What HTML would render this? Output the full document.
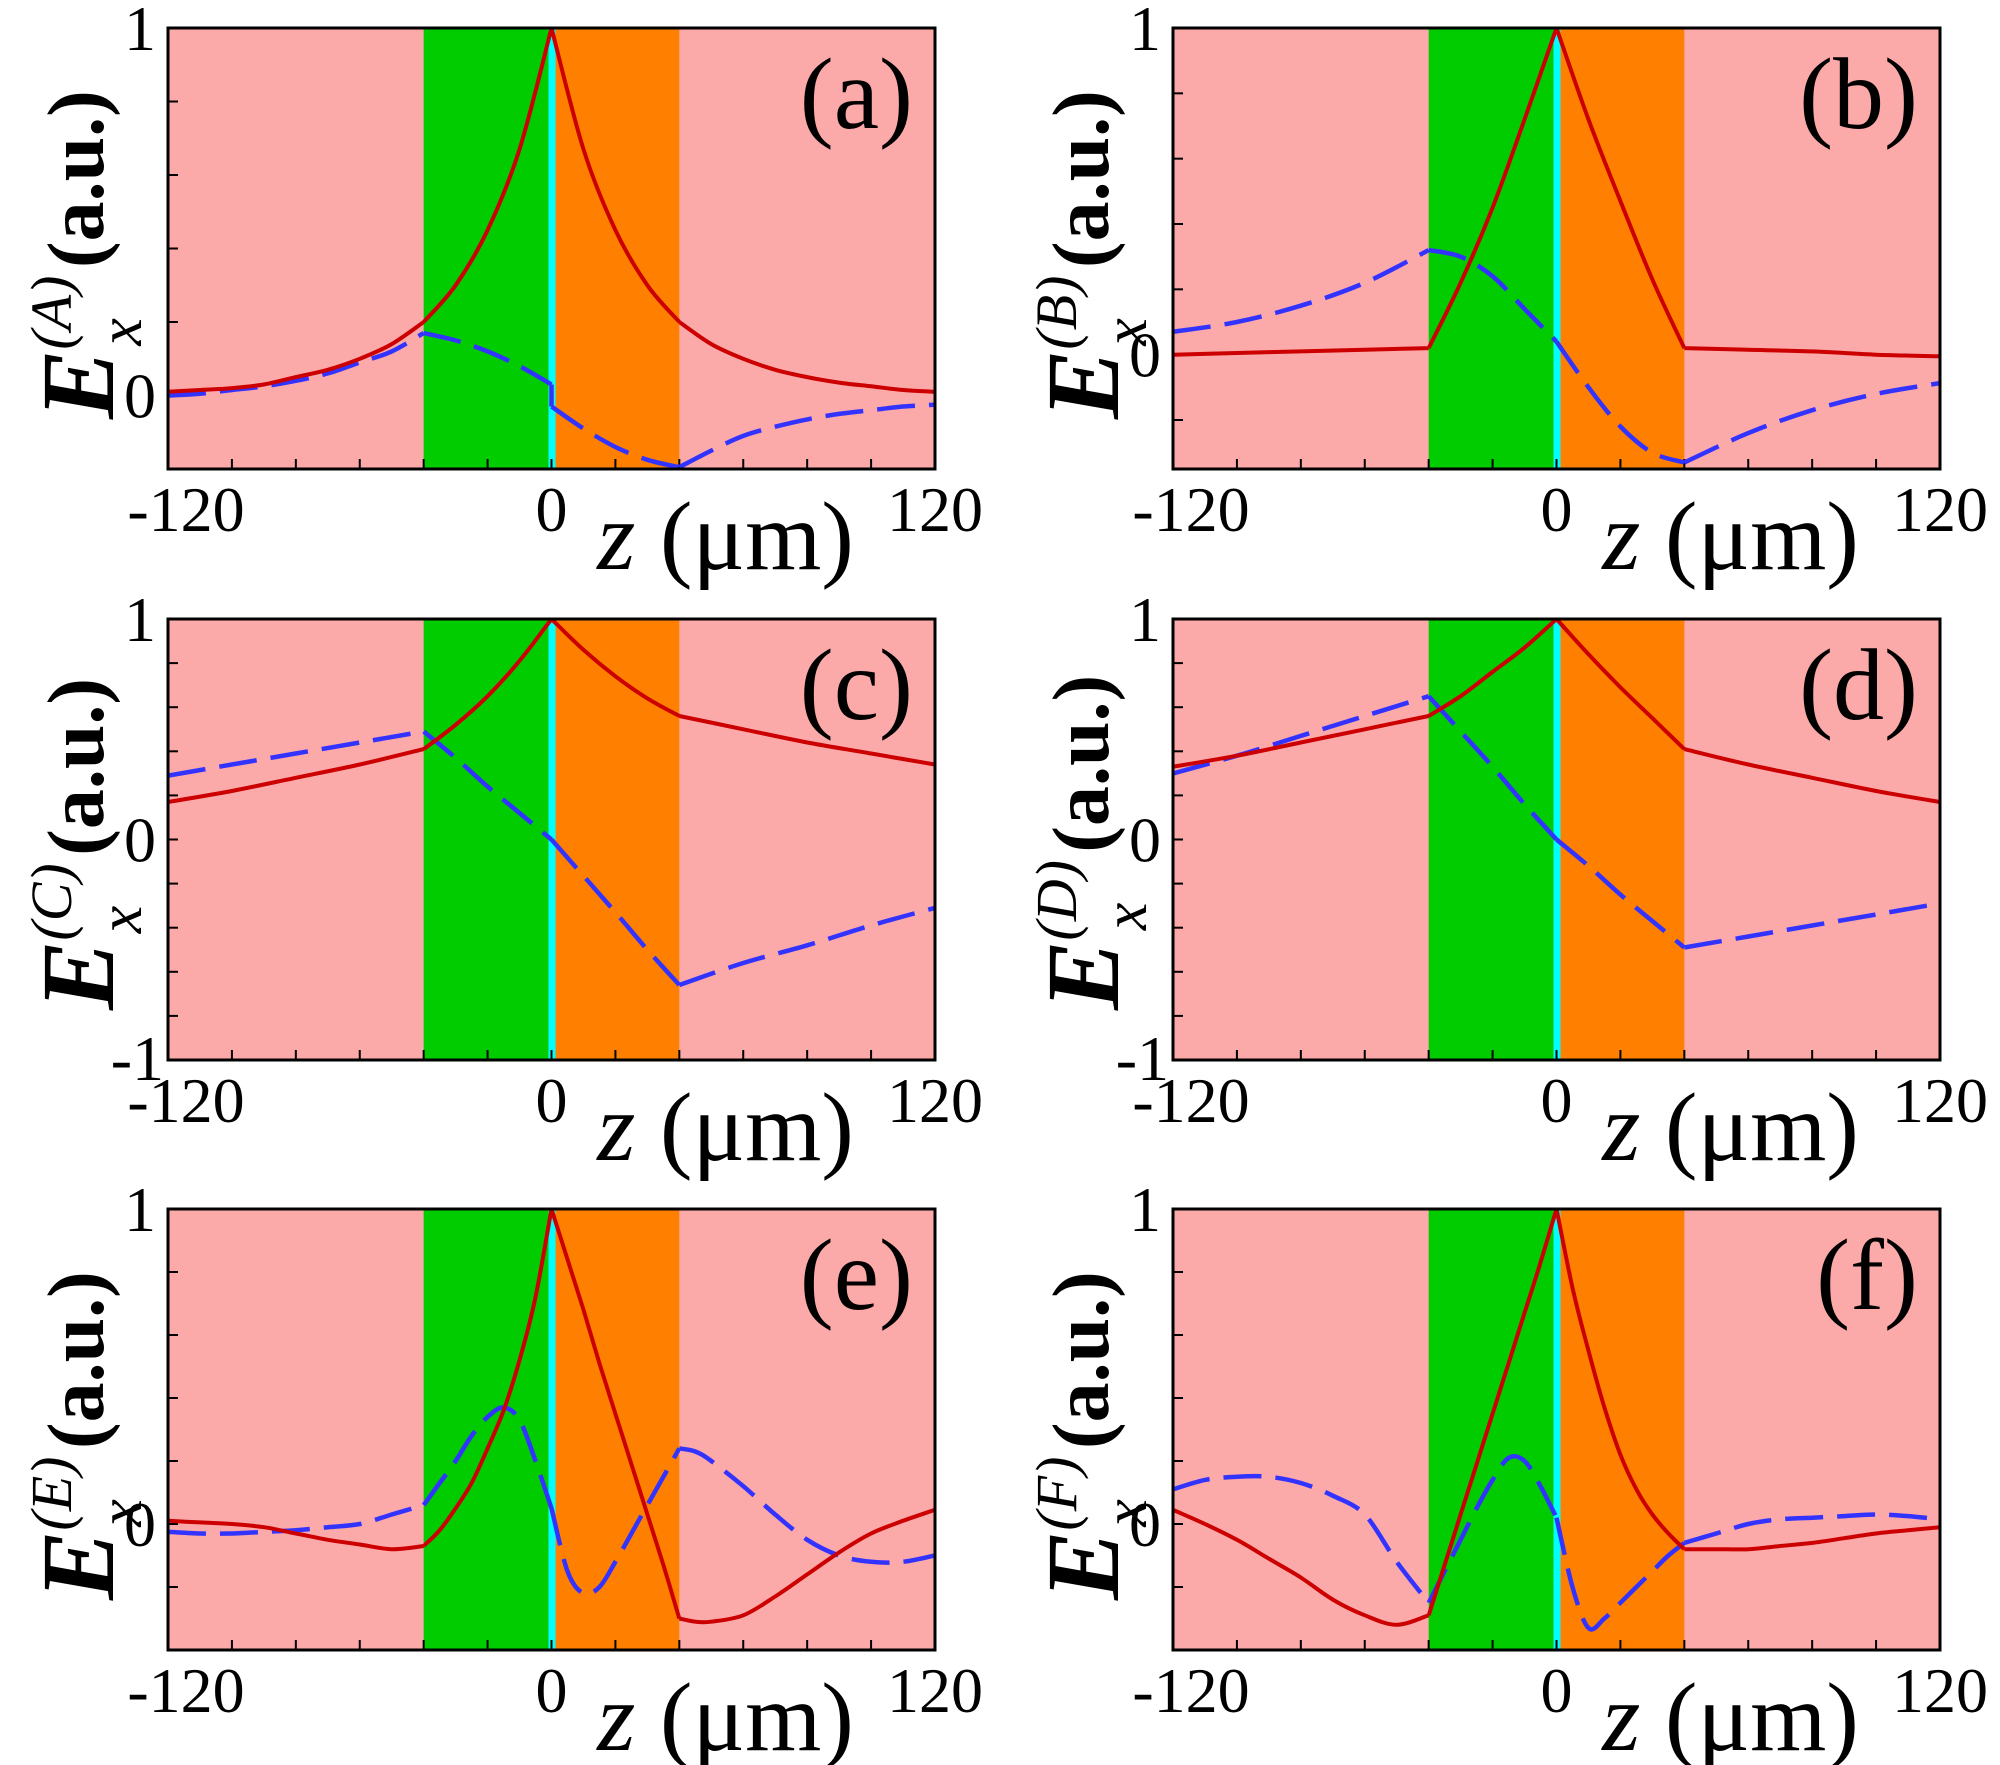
<!DOCTYPE html>
<html><head><meta charset="utf-8"><style>
html,body{margin:0;padding:0;background:#fff;}
svg{display:block;}
text{font-family:"Liberation Serif",serif;fill:#000;}
</style></head><body>
<svg id="fig" width="2000" height="1765" viewBox="0 0 2000 1765" xmlns="http://www.w3.org/2000/svg"></svg>
<script>
// Data (z in µm, field in a.u.)
const zA = [-120,-110,-100,-90,-80,-70,-60,-50,-40,-30,-20,-10,0,0,10,20,30,40,50,60,70,80,90,100,110,120];
const redA = [0.01,0.015,0.02,0.03,0.05,0.07,0.10,0.14,0.20,0.30,0.45,0.67,1,1,0.67,0.45,0.30,0.20,0.14,0.10,0.07,0.05,0.035,0.025,0.015,0.01];
const blueA = [0.0,0.005,0.015,0.025,0.04,0.06,0.09,0.12,0.17,0.15,0.12,0.08,0.03,-0.03,-0.09,-0.14,-0.175,-0.195,-0.15,-0.11,-0.085,-0.065,-0.05,-0.04,-0.03,-0.025];
const zB = [-120,-100,-80,-60,-40,-30,-20,-10,0,10,20,30,40,60,80,100,120];
const redB = [0.0,0.005,0.01,0.015,0.02,0.22,0.45,0.72,1,0.72,0.47,0.23,0.02,0.015,0.01,0.0,-0.005];
const blueB = [0.07,0.1,0.15,0.22,0.32,0.3,0.24,0.14,0.04,-0.1,-0.22,-0.3,-0.33,-0.24,-0.17,-0.12,-0.087];
const zC = [-120,-100,-80,-60,-40,-30,-20,-10,0,10,20,30,40,60,80,100,120];
const redC = [0.17,0.22,0.28,0.34,0.41,0.52,0.65,0.81,1,0.86,0.74,0.64,0.56,0.5,0.44,0.39,0.34];
const blueC = [0.29,0.34,0.39,0.44,0.49,0.37,0.24,0.12,0.0,-0.165,-0.33,-0.5,-0.66,-0.56,-0.48,-0.39,-0.31];
const zD = [-120,-100,-80,-60,-40,-30,-20,-10,0,10,20,30,40,60,80,100,120];
const redD = [0.33,0.38,0.44,0.5,0.56,0.65,0.76,0.87,1,0.84,0.69,0.55,0.41,0.34,0.28,0.22,0.17];
const blueD = [0.30,0.38,0.47,0.56,0.65,0.49,0.33,0.16,0.0,-0.12,-0.25,-0.37,-0.49,-0.44,-0.39,-0.34,-0.29];
const zE = [-120,-110,-100,-90,-80,-70,-60,-50,-40,-35,-30,-25,-20,-15,-10,-5,0,5,10,15,20,25,30,35,40,45,50,60,70,80,90,100,110,120];
const redE = [0.01,0.005,0,-0.01,-0.03,-0.05,-0.065,-0.08,-0.07,-0.02,0.05,0.13,0.24,0.36,0.52,0.72,1,0.84,0.68,0.51,0.35,0.19,0.03,-0.13,-0.3,-0.31,-0.31,-0.29,-0.23,-0.16,-0.09,-0.03,0.01,0.045];
const blueE = [-0.025,-0.03,-0.03,-0.025,-0.02,-0.01,0.0,0.03,0.06,0.13,0.2,0.28,0.34,0.37,0.33,0.2,0.05,-0.15,-0.22,-0.2,-0.12,-0.03,0.06,0.15,0.24,0.23,0.2,0.12,0.03,-0.05,-0.1,-0.12,-0.12,-0.1];
const zF = [-120,-110,-100,-90,-80,-70,-60,-50,-40,-35,-30,-25,-20,-15,-10,-5,0,5,10,15,20,25,30,35,40,50,60,70,80,90,100,110,120];
const redF = [0.045,0.0,-0.05,-0.11,-0.17,-0.24,-0.29,-0.32,-0.29,-0.13,0.03,0.19,0.35,0.51,0.67,0.83,1,0.75,0.55,0.37,0.22,0.11,0.03,-0.03,-0.08,-0.08,-0.08,-0.07,-0.06,-0.045,-0.03,-0.02,-0.01];
const blueF = [0.11,0.14,0.15,0.15,0.13,0.09,0.03,-0.12,-0.25,-0.15,-0.05,0.05,0.14,0.21,0.2,0.12,0.02,-0.2,-0.33,-0.3,-0.25,-0.2,-0.15,-0.1,-0.06,-0.03,0.0,0.015,0.02,0.025,0.03,0.025,0.015];
const panelLetters = ['a','b','c','d','e','f'];
const panelSup = ['A','B','C','D','E','F'];
const yMins = [-0.2,-0.35,-1,-1,-0.4,-0.4];
const xTickLabels = ['-120','0','120'];
const xTickValues = [-120,0,120];
const kinks = [-40,0,40];

const series = [[zA,redA,blueA],[zB,redB,blueB],[zC,redC,blueC],[zD,redD,blueD],[zE,redE,blueE],[zF,redF,blueF]];
const NS = 'http://www.w3.org/2000/svg';
const svg = document.getElementById('fig');
function mk(tag, attrs, parent){const e=document.createElementNS(NS,tag);for(const k in attrs)e.setAttribute(k,attrs[k]);(parent||svg).appendChild(e);return e;}
function smoothPath(pts, zs){
  const segs=[];let cur=[pts[0]];
  for(let k=1;k<pts.length;k++){
    cur.push(pts[k]);
    if(kinks.includes(zs[k]) && k<pts.length-1){segs.push(cur);cur=[pts[k]];}
  }
  segs.push(cur);
  let d='';
  segs.forEach(s=>{
    d+='M'+s[0][0].toFixed(1)+','+s[0][1].toFixed(1);
    for(let k=0;k<s.length-1;k++){
      const p0=s[Math.max(k-1,0)],p1=s[k],p2=s[k+1],p3=s[Math.min(k+2,s.length-1)];
      const c1=[p1[0]+(p2[0]-p0[0])/6,p1[1]+(p2[1]-p0[1])/6];
      const c2=[p2[0]-(p3[0]-p1[0])/6,p2[1]-(p3[1]-p1[1])/6];
      d+='C'+c1[0].toFixed(1)+','+c1[1].toFixed(1)+' '+c2[0].toFixed(1)+','+c2[1].toFixed(1)+' '+p2[0].toFixed(1)+','+p2[1].toFixed(1);
    }
  });
  return d;
}
const cols=[168,1173], rows=[28,619,1209], W=767, H=441;
for(let i=0;i<6;i++){
  const L=cols[i%2], T=rows[Math.floor(i/2)], R=L+W, B=T+H;
  const ymin=yMins[i], ymax=1;
  const xs=z=>L+(z+120)/240*W;
  const ys=v=>T+(ymax-v)/(ymax-ymin)*H;
  const g=mk('g',{});
  
  
  const bg=mk('rect',{x:L,y:T,width:W,height:H,fill:'#fca9a9'},g);
  
  
  const gr=mk('rect',{x:xs(-40),y:T,width:xs(0)-xs(-40),height:H,fill:'#00cc00'},g);
  
  
  const orr=mk('rect',{x:xs(0),y:T,width:xs(40)-xs(0),height:H,fill:'#ff8000'},g);
  
  
  const cy=mk('rect',{x:xs(0)-3,y:T,width:7,height:H,fill:'#00ffff'},g);
  
  
  for(let z=-100;z<120;z+=20){mk('line',{x1:xs(z),x2:xs(z),y1:B,y2:B-10,stroke:'#000','stroke-width':2},g);}
  const step=0.2;
  for(let v=Math.ceil(ymin/step)*step; v<1; v+=step){mk('line',{x1:L,x2:L+10,y1:ys(v),y2:ys(v),stroke:'#000','stroke-width':2},g);}
  const [zz,rr,bb]=series[i];
  const rpts=zz.map((z,k)=>[xs(z),ys(rr[k])]);
  const bpts=zz.map((z,k)=>[xs(z),ys(bb[k])]);
  const cl=mk('clipPath',{id:'c'+i},g);mk('rect',{x:L,y:T,width:W,height:H},cl);
  const bl=mk('path',{d:smoothPath(bpts,zz),fill:'none',stroke:'#3333ff','stroke-width':4.5,'stroke-dasharray':'38 14','clip-path':'url(#c'+i+')'},g);
  
  
  const rl=mk('path',{d:smoothPath(rpts,zz),fill:'none',stroke:'#cc0000','stroke-width':4,'clip-path':'url(#c'+i+')'},g);
  
  
  const fr=mk('rect',{x:L,y:T,width:W,height:H,fill:'none',stroke:'#000','stroke-width':3},g);
  
  
  const y1=mk('text',{x:L-12,y:T+22,'font-size':64,'text-anchor':'end'},g);y1.textContent='1';
  
  
  const y0=mk('text',{x:L-12,y:ys(0)+22,'font-size':64,'text-anchor':'end'},g);y0.textContent='0';
  
  
  if(ymin===-1){const ym=mk('text',{x:L-4,y:B+20,'font-size':64,'text-anchor':'end'},g);ym.textContent='-1';
    
    }
  for(let k=0;k<3;k++){
    const off = k===0?18:0;
    const t=mk('text',{x:xs(xTickValues[k])+off,y:B+62,'font-size':64,'text-anchor':'middle'},g);t.textContent=xTickLabels[k];
    
    
  }
  const xl=mk('text',{x:L+W*0.727,y:B+100,'font-size':98,'text-anchor':'middle'},g);
  
  
  xl.setAttribute('xml:space','preserve');
  xl.innerHTML='<tspan font-style="italic">z</tspan>  (μm)';
  const pl=mk('text',{x:R-22,y:T+100,'font-size':102,'text-anchor':'end'},g);pl.textContent='('+panelLetters[i]+')';
  
  
  const yt=mk('text',{transform:'translate('+(L-55)+','+(B-50)+') rotate(-90)','font-size':80,'font-weight':'bold'},g);
  
  
  yt.innerHTML='<tspan font-style="italic" font-size="104">E</tspan><tspan font-style="italic" font-weight="normal" font-size="58" dy="-42">('+panelSup[i]+')</tspan><tspan font-style="italic" font-weight="normal" font-size="62" dx="-70" dy="70">x</tspan><tspan dy="-38" dx="50">(a.u.)</tspan>';
}
</script>
</body></html>
